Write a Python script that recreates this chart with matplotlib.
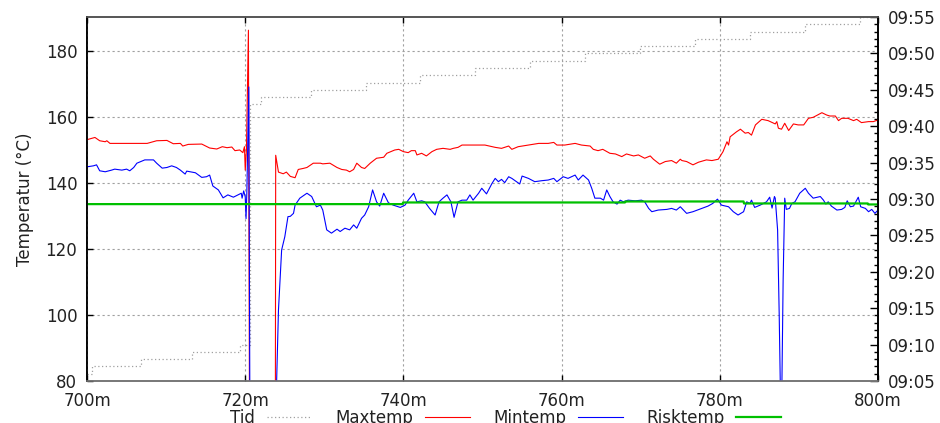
import matplotlib
matplotlib.use("Agg")
import matplotlib.pyplot as plt
from matplotlib.ticker import MultipleLocator, FuncFormatter

plt.rcParams['font.family'] = ['DejaVu Sans']

# ----- Data -----
# Tid: clock time (minutes after 09:00) against distance
tid_x = [700.0, 700.6, 706.8, 713.3, 719.3, 720.6, 722.0, 728.3, 735.3, 742.1,
         749.1, 756.0, 763.0, 769.9, 776.9, 783.8, 790.8, 797.7, 800.0]
tid_min = [6, 7, 8, 9, 10, 43, 44, 45, 46, 47,
           48, 49, 50, 51, 52, 53, 54, 55, 55]

# Maxtemp
max_x = [700.1, 701.0, 701.6, 702.3, 702.5, 702.9, 707.6, 708.8, 710.1, 710.9,
         711.8, 712.1, 712.8, 714.5, 715.5, 716.4, 717.1, 717.7, 718.3, 718.7,
         719.3, 719.7, 719.9, 720.0, 720.15, 720.4, 720.55, 723.8, 723.85, 724.2,
         724.8, 725.2, 725.7, 726.3, 726.7, 727.3, 727.8, 728.6, 729.5, 729.8,
         730.7, 731.6, 732.2, 732.8, 733.2, 733.7, 734.1, 734.7, 735.1, 735.8,
         736.6, 737.5, 737.9, 738.9, 739.4, 740.0, 740.6, 741.0, 741.5, 741.7,
         742.3, 742.9, 743.6, 744.2, 745.0, 745.9, 746.3, 746.9, 747.4, 749.1,
         750.3, 751.6, 752.4, 753.3, 753.7, 754.5, 755.8, 757.1, 758.3, 759.0,
         759.4, 760.4, 761.7, 762.5, 763.6, 764.0, 764.6, 765.2, 766.1, 766.8,
         767.6, 768.2, 769.1, 769.7, 770.5, 771.2, 771.6, 772.4, 773.1, 773.9,
         774.5, 775.0, 775.2, 775.8, 776.6, 777.3, 778.3, 779.0, 779.8, 780.4,
         780.9, 781.1, 781.3, 782.1, 782.6, 783.2, 783.6, 784.0, 784.5, 785.3,
         786.1, 787.0, 787.2, 787.4, 787.8, 788.2, 788.7, 789.3, 789.9, 790.6,
         791.2, 791.8, 792.9, 793.5, 793.9, 794.6, 795.0, 795.4, 796.2, 796.9,
         797.3, 797.9, 798.8, 799.4, 800.0]
max_temp = [153.2, 153.8, 152.8, 152.5, 152.8, 152.0, 152.0, 152.8, 152.9, 151.9,
            152.0, 151.2, 151.7, 151.8, 150.6, 150.3, 151.0, 150.7, 150.9, 149.8,
            150.0, 149.2, 151.0, 143.9, 150.0, 186.3, 60.0, 60.0, 148.4, 143.3,
            142.8, 143.3, 142.0, 141.6, 144.1, 144.4, 144.7, 146.0, 146.0, 145.8,
            146.0, 144.7, 144.1, 143.9, 143.4, 144.1, 146.0, 144.7, 144.4, 146.0,
            147.5, 147.8, 149.0, 150.0, 150.2, 149.5, 149.2, 149.8, 149.8, 148.5,
            149.0, 148.2, 149.5, 150.2, 150.5, 150.2, 150.5, 150.8, 151.5, 151.5,
            151.5, 150.8, 150.5, 151.2, 150.2, 151.0, 151.5, 152.0, 152.0, 152.3,
            151.5, 151.5, 152.0, 151.5, 151.2, 150.2, 149.8, 150.2, 149.0, 148.8,
            148.0, 148.8, 148.2, 148.5, 147.5, 148.2, 147.2, 145.7, 146.5, 146.8,
            146.0, 147.2, 146.8, 146.5, 145.5, 146.3, 147.0, 146.8, 147.2, 149.5,
            152.5, 151.5, 154.0, 155.5, 156.3, 155.1, 155.3, 154.5, 157.6, 159.3,
            158.9, 157.9, 158.6, 156.6, 156.3, 158.1, 155.9, 157.9, 157.6, 157.6,
            159.6, 159.9, 161.3, 160.6, 160.3, 160.3, 158.9, 159.6, 159.6, 158.9,
            159.3, 158.3, 158.6, 158.6, 159.1]

# Mintemp
min_x = [700.0, 700.8, 701.2, 701.6, 702.3, 703.1, 703.5, 704.4, 705.0, 705.4,
         705.9, 706.3, 707.3, 708.4, 708.8, 709.5, 710.1, 710.7, 711.3, 711.8,
         712.4, 712.6, 713.7, 714.5, 715.1, 715.5, 715.9, 716.6, 717.2, 717.8,
         718.5, 719.1, 719.5, 719.6, 719.8, 720.0, 720.1, 720.2, 720.45, 720.6,
         723.75, 724.2, 724.6, 725.0, 725.4, 725.7, 726.1, 726.3, 726.9, 727.8,
         728.4, 729.0, 729.5, 729.8, 730.3, 730.9, 731.6, 732.0, 732.6, 733.2,
         733.7, 734.1, 734.7, 735.1, 735.6, 736.1, 736.6, 737.0, 737.5, 738.1,
         738.7, 739.6, 740.2, 740.6, 741.3, 741.7, 742.3, 742.7, 743.3, 744.0,
         744.5, 745.0, 745.5, 746.0, 746.4, 746.9, 747.4, 748.0, 748.4, 748.8,
         749.5, 749.9, 750.5, 751.2, 751.6, 752.0, 752.4, 752.8, 753.3, 753.7,
         754.3, 754.7, 755.0, 755.8, 756.6, 757.5, 758.3, 759.0, 759.4, 760.2,
         760.8, 761.7, 762.1, 762.7, 763.4, 763.8, 764.2, 764.9, 765.3, 765.7,
         766.1, 766.5, 767.0, 767.4, 767.8, 768.4, 769.3, 770.1, 770.5, 771.0,
         771.4, 772.2, 773.3, 773.9, 774.5, 775.0, 775.8, 776.6, 777.7, 778.5,
         779.1, 779.7, 780.2, 781.1, 781.7, 782.3, 783.0, 783.4, 783.8, 784.0,
         784.4, 785.1, 785.5, 785.9, 786.3, 786.6, 786.9, 787.0, 787.3, 787.5,
         787.7, 787.8, 788.0, 788.2, 788.4, 788.8, 789.1, 789.5, 790.1, 790.8,
         791.2, 791.8, 792.7, 793.1, 793.4, 793.7, 794.1, 794.8, 795.4, 795.8,
         796.1, 796.5, 796.9, 797.5, 797.8, 798.4, 798.8, 799.2, 799.6, 800.0]
min_temp = [144.9, 145.2, 145.5, 143.7, 143.4, 143.9, 144.2, 143.9, 144.2, 143.7,
            144.7, 146.0, 147.0, 147.0, 146.0, 144.5, 144.7, 145.2, 144.7, 143.9,
            142.7, 143.6, 143.1, 141.7, 141.9, 142.4, 139.1, 137.9, 135.5, 136.4,
            135.7, 136.4, 136.9, 135.4, 137.6, 135.8, 129.2, 136.9, 169.1, 60.0,
            60.0, 101.5, 119.7, 123.7, 129.8, 129.9, 130.8, 133.3, 135.4, 136.9,
            135.9, 132.8, 133.3, 131.8, 125.8, 124.8, 126.0, 125.3, 126.3, 125.8,
            127.3, 126.3, 129.3, 130.3, 132.8, 137.9, 134.3, 133.0, 136.9, 134.0,
            133.3, 132.6, 133.3, 134.8, 136.9, 134.3, 134.6, 134.3, 132.3, 130.3,
            134.3, 135.4, 136.4, 134.3, 129.6, 134.3, 134.8, 134.8, 136.4, 134.8,
            136.9, 138.4, 136.7, 139.9, 141.4, 140.4, 141.1, 140.1, 141.9, 141.4,
            140.4, 139.7, 142.1, 141.4, 140.4, 140.7, 140.9, 141.4, 140.4, 141.9,
            141.4, 142.4, 140.9, 142.4, 140.9, 138.4, 135.4, 135.4, 134.8, 137.9,
            135.9, 134.3, 133.6, 134.8, 134.3, 134.8, 134.6, 134.8, 134.3, 132.3,
            131.3, 131.8, 132.0, 132.3, 131.8, 132.8, 130.8, 131.3, 132.3, 133.0,
            133.8, 135.1, 133.3, 132.8, 131.3, 130.3, 131.3, 134.3, 133.8, 134.8,
            132.6, 133.3, 133.8, 134.3, 135.7, 132.4, 135.9, 135.4, 125.8, 100.5,
            70.0, 70.0, 110.6, 135.4, 132.0, 132.3, 133.8, 134.3, 136.9, 138.4,
            136.9, 135.4, 135.9, 134.8, 133.6, 134.3, 133.0, 131.8, 132.0, 132.6,
            134.6, 132.8, 133.0, 135.7, 132.8, 132.3, 131.3, 132.0, 130.8, 131.8]

# Risktemp
risk_x = [700.0, 739.9, 739.95, 768.0, 768.05, 783.0, 783.05, 798.7, 798.75, 800.0]
risk_temp = [133.6, 133.6, 134.1, 134.1, 134.4, 134.4, 133.8, 133.8, 133.5, 133.5]

x_ticks = [700, 720, 740, 760, 780, 800]
y_ticks = [80, 100, 120, 140, 160, 180]

# ----- Plot -----
fig = plt.figure(figsize=(9.4, 4.23), dpi=100)
ax = fig.add_axes([0.0926, 0.0993, 0.8415, 0.8605])
ax2 = ax.twinx()
ax.set_zorder(ax2.get_zorder() + 1)
ax.patch.set_visible(False)

txt = '#222222'
grid_kw = dict(color='#a0a0a0', lw=0.8, ls=(0, (2, 2.5)))

tid_line, = ax2.plot(tid_x, tid_min, drawstyle='steps-post', color='#a0a0a0',
                     lw=0.9, ls=(0, (1, 2)))
max_line, = ax.plot(max_x, max_temp, color='#ff0000', lw=0.8)
min_line, = ax.plot(min_x, min_temp, color='#0000ff', lw=0.8)
risk_line, = ax.plot(risk_x, risk_temp, color='#00c000', lw=1.6)

ax.set_xlim(700, 800)
ax.set_ylim(80, 190.3)
ax.set_xticks(x_ticks)
ax.set_yticks(y_ticks)
ax.xaxis.set_major_formatter(FuncFormatter(lambda v, p: f"{v:.0f}m"))
ax.grid(True, **grid_kw)

ax2.set_ylim(5, 55)
ax2.yaxis.set_major_locator(MultipleLocator(5))
ax2.yaxis.set_minor_locator(MultipleLocator(1))
ax2.yaxis.set_major_formatter(FuncFormatter(lambda v, p: f"09:{v:02.0f}"))

ax.tick_params(axis='x', direction='in', length=4, width=1, top=True,
               labelsize=12, labelcolor=txt, pad=8)
ax.tick_params(axis='y', direction='in', length=4, width=1, right=False,
               labelsize=12, labelcolor=txt, pad=7)
ax2.tick_params(axis='y', which='major', direction='in', length=6, width=1,
                labelsize=12, labelcolor=txt, pad=7)
ax2.tick_params(axis='y', which='minor', direction='in', length=3, width=1)

for a in (ax, ax2):
    a.spines['left'].set_color('black')
    a.spines['right'].set_color('black')
    a.spines['top'].set_color('#555555')
    a.spines['bottom'].set_color('#777777')
    for s in a.spines.values():
        s.set_linewidth(1.2)

ax.set_ylabel("Temperatur (°C)", fontsize=12, color=txt, labelpad=8)

fig.legend([tid_line, max_line, min_line, risk_line],
           ["Tid", "Maxtemp", "Mintemp", "Risktemp"],
           loc='center', bbox_to_anchor=(0.538, 0.013), ncol=4, frameon=False,
           markerfirst=False, fontsize=12, handlelength=2.7, handletextpad=0.7,
           columnspacing=1.4, labelcolor=txt)

fig.savefig("out.png", dpi=100)
